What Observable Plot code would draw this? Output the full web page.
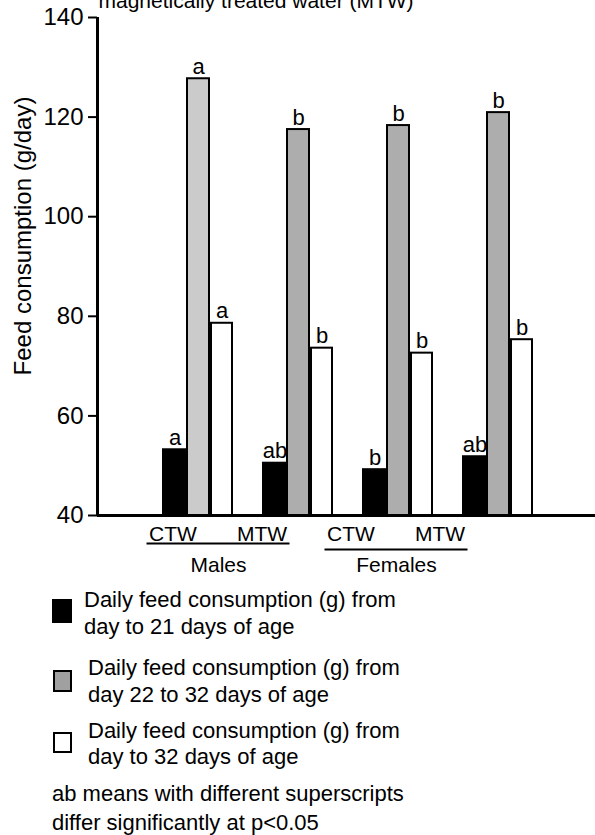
<!DOCTYPE html>
<html><head><meta charset="utf-8">
<script src="https://cdn.jsdelivr.net/npm/d3@7"></script>
<script src="https://cdn.jsdelivr.net/npm/@observablehq/plot@0.6"></script>
<style>
body{margin:0;background:#fff;font-family:"Liberation Sans",Arial,sans-serif;color:#000}
#wrap{position:relative;width:595px;height:835px;overflow:hidden}
.leg{position:absolute;font-size:22px;line-height:27px;white-space:nowrap}
.sw{position:absolute;box-sizing:border-box;border:2.5px solid #000}
#ylab{position:absolute;left:23px;top:236px;font-size:24px;white-space:nowrap;transform:translate(-50%,-50%) rotate(-90deg);line-height:24px}
</style></head><body><div id="wrap"><div id="chart"></div>
<div id="ylab"></div>
<div class="sw" style="left:52px;top:599px;width:20px;height:24px;background:#000"></div>
<div class="leg" id="l1" style="left:84px;top:586px"></div>
<div class="sw" style="left:53px;top:670px;width:19px;height:22px;background:#a0a0a0"></div>
<div class="leg" id="l2" style="left:88px;top:654px"></div>
<div class="sw" style="left:53px;top:732px;width:19px;height:21px;background:#fff"></div>
<div class="leg" id="l3" style="left:88px;top:718px;line-height:26px"></div>
<div class="leg" id="note" style="left:52px;top:779px;line-height:29px"></div>
</div>
<script>
const title = "magnetically treated water (MTW)";
const yLabel = "Feed consumption (g/day)";
const groups = ["CTW", "MTW", "CTW", "MTW"];
const sexes = ["Males", "Females"];
const groupSex = ["Males", "Males", "Females", "Females"];
const seriesNames = [
  ["Daily feed consumption (g) from", "day to 21 days of age"],
  ["Daily feed consumption (g) from", "day 22 to 32 days of age"],
  ["Daily feed consumption (g) from", "day to 32 days of age"]
];
const day1to21 = [53.2, 50.5, 49.2, 51.8];
const day22to32 = [127.7, 117.5, 118.3, 120.9];
const day1to32 = [78.6, 73.6, 72.6, 75.3];
const sig1to21 = ["a", "ab", "b", "ab"];
const sig22to32 = ["a", "b", "b", "b"];
const sig1to32 = ["a", "b", "b", "b"];
const yTicks = [40, 60, 80, 100, 120, 140];
const footnote = ["ab means with different superscripts", "differ significantly at p<0.05"];

// layout / style
const seriesVals = [day1to21, day22to32, day1to32];
const seriesSig = [sig1to21, sig22to32, sig1to32];
const offsets = [[-0.34, -0.11], [-0.10, 0.12], [0.14, 0.35]];
const fillFor = (s, g) => s === 0 ? "#000" : s === 2 ? "#fff" : (g === 0 ? "#cbcbcb" : "#adadad");

const rows = [];
groups.forEach((grp, g) => {
  seriesVals.forEach((vals, s) => {
    rows.push({g, s, value: vals[g], sig: seriesSig[s][g], fill: fillFor(s, g)});
  });
});
const labelX = i => i + 1 - 0.245 - 0.11 * i;
const catRows = groups.map((t, i) => ({t, x: labelX(i), sex: groupSex[i]}));
const sexRows = sexes.map(sex => {
  const idx = groupSex.map((s, i) => s === sex ? i : -1).filter(i => i >= 0);
  const x1 = labelX(idx[0]) - 0.26, x2 = labelX(idx[idx.length - 1]) + 0.28;
  return {sex, x1, x2, mid: (x1 + x2) / 2};
});

const fs = 21;
const chart = Plot.plot({
  width: 595, height: 580,
  marginLeft: 97, marginTop: 17, marginBottom: 65, marginRight: 0,
  style: {fontFamily: '"Liberation Sans", Arial, sans-serif', color: "#000", background: "#fff", overflow: "visible"},
  x: {domain: [0, 4.98], axis: null},
  y: {domain: [40, 140], axis: null},
  marks: [
    Plot.rect(rows, {
      x1: d => d.g + 1 + offsets[d.s][0], x2: d => d.g + 1 + offsets[d.s][1],
      y1: 40, y2: "value", fill: "fill", stroke: "#000", strokeWidth: 2
    }),
    Plot.text(rows, {
      x: d => d.g + 1 + (offsets[d.s][0] + offsets[d.s][1]) / 2, y: "value", text: "sig",
      lineAnchor: "bottom", dy: -5, fontSize: 22, fill: "#000"
    }),
    Plot.axisY({ticks: yTicks, tickSize: 9, tickPadding: 5, fontSize: 24, strokeWidth: 2, label: null}),
    Plot.ruleX([0], {y1: 40, y2: 140, strokeWidth: 3, stroke: "#000"}),
    Plot.ruleY([40], {strokeWidth: 3, stroke: "#000"}),
    Plot.text(catRows, {x: "x", y: 40, text: "t", dy: 19, lineAnchor: "middle", fontSize: fs, fill: "#000"}),
    Plot.ruleY(sexRows.filter(d => d.sex === "Males"), {x1: "x1", x2: "x2", y: 40, dy: 28, strokeWidth: 2, stroke: "#000"}),
    Plot.ruleY(sexRows.filter(d => d.sex === "Females"), {x1: "x1", x2: "x2", y: 40, dy: 34, strokeWidth: 2, stroke: "#000"}),
    Plot.text(sexRows, {x: "mid", y: 40, text: "sex", dy: 50, lineAnchor: "middle", fontSize: fs, fill: "#000"}),
    Plot.text([title], {frameAnchor: "top-left", textAnchor: "start", lineAnchor: "bottom", dx: 1, dy: -10, fontSize: fs, fill: "#000"})
  ]
});
document.getElementById("chart").appendChild(chart);
document.getElementById("ylab").textContent = yLabel;
["l1", "l2", "l3"].forEach((id, i) => {
  document.getElementById(id).innerHTML = seriesNames[i].join("<br>");
});
document.getElementById("note").innerHTML = footnote.join("<br>");
</script>
</body></html>
